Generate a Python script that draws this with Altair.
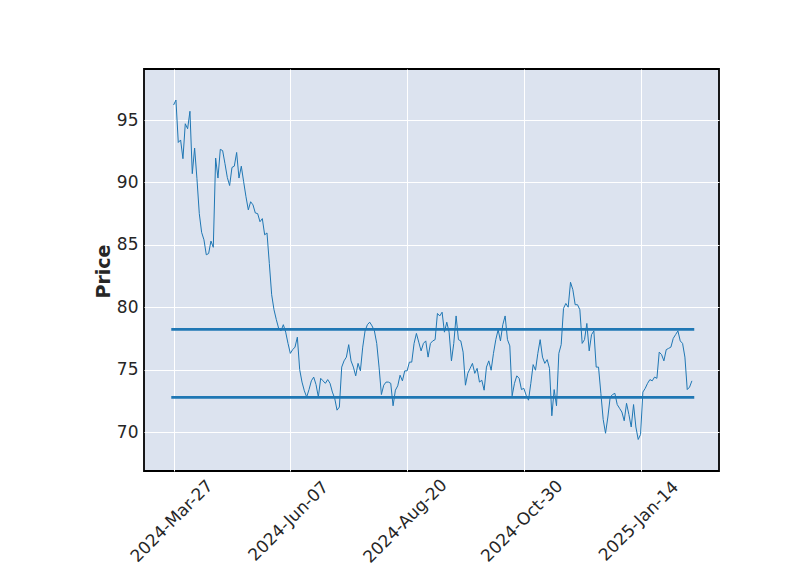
import altair as alt
import pandas as pd

# closing prices, one per trading day (index 0 = 2024-Mar-27)
prices = [
    96.2, 96.6, 93.2, 93.4, 91.9, 94.7, 94.3, 95.7, 90.7, 92.75,
    90.3, 87.5, 86.0, 85.4, 84.2, 84.3, 85.3, 84.8, 91.95, 90.35,
    92.65, 92.55, 91.5, 90.4, 89.75, 91.2, 91.3, 92.4, 90.35, 91.3,
    90.05, 88.85, 87.8, 88.45, 88.2, 87.55, 87.5, 86.85, 87.1, 85.8,
    85.95, 83.5, 81.0, 79.8, 79.0, 78.3, 78.1, 78.6, 78.0, 77.1,
    76.3, 76.6, 76.8, 77.6, 75.0, 74.0, 73.3, 72.8, 73.4, 74.1,
    74.4, 73.8, 72.8, 74.3, 74.1, 73.9, 74.2, 73.9, 73.2, 72.7,
    71.75, 72.0, 75.2, 75.7, 76.0, 77.0, 75.7, 75.2, 74.5, 75.5,
    74.9, 76.8, 78.1, 78.6, 78.8, 78.5, 78.1, 77.1, 75.2, 73.0,
    73.75, 74.0, 74.0, 73.9, 72.1, 73.35, 73.7, 74.55, 74.1, 74.9,
    74.9, 75.6, 75.6, 77.1, 77.9, 77.2, 76.5, 77.1, 77.3, 76.0,
    77.1, 77.3, 77.4, 79.5, 79.3, 79.6, 78.0, 78.8, 78.0, 75.7,
    77.1, 79.3, 77.4, 77.3, 76.4, 73.75, 74.7, 75.1, 75.5, 74.7,
    75.1, 74.0, 74.15, 73.35, 75.2, 75.7, 74.95, 76.3, 77.4, 78.2,
    77.3, 78.6, 79.3, 77.4, 76.9, 72.9, 73.9, 74.5, 74.3, 73.4,
    73.5, 72.95, 72.55, 73.9, 75.4, 74.95, 76.3, 77.4, 76.0, 75.5,
    75.8, 75.1, 71.3, 73.4, 72.1, 76.3, 77.0, 79.9, 80.3, 80.0,
    82.0, 81.4, 80.2, 80.2, 79.8, 77.1, 77.4, 78.7, 76.5, 77.8,
    78.1, 75.2, 75.2, 73.1, 71.0, 69.9, 71.2, 72.8, 73.0, 73.1,
    72.2, 71.9, 71.6, 70.9, 72.3, 71.4, 70.4, 72.2, 70.4, 69.4,
    69.8, 73.2, 73.5, 73.9, 74.2, 74.1, 74.4, 74.3, 76.4, 76.2,
    75.7, 76.6, 76.7, 76.8, 77.5, 77.8, 78.1, 77.3, 77.1, 76.0,
    73.4, 73.6, 74.1,
]
tick_positions = [0, 50, 100, 150, 200]
tick_labels = ["2024-Mar-27", "2024-Jun-07", "2024-Aug-20", "2024-Oct-30", "2025-Jan-14"]
y_ticks = [70, 75, 80, 85, 90, 95]
hline_levels = [78.23, 72.78]
hline_start = [-1, -1]
hline_end = [223, 223]

df = pd.DataFrame({"i": list(range(len(prices))), "price": prices})
hl = pd.DataFrame({"i": hline_start, "i2": hline_end, "price": hline_levels})

expr = "''"
for p, lab in reversed(list(zip(tick_positions, tick_labels))):
    expr = f"datum.value == {p} ? '{lab}' : ({expr})"

FONT = "DejaVu Sans"
x_scale = alt.Scale(domain=[-12.68, 233.6], nice=False, zero=False)
y_scale = alt.Scale(domain=[66.875, 99.087], nice=False, zero=False)
x_axis = alt.Axis(
    values=tick_positions, labelExpr=expr, title=None, grid=True, ticks=False,
    domain=False, labelAngle=315, labelAlign="center", labelBaseline="middle",
    labelPadding=50, labelFont=FONT, labelFontSize=17, labelColor="#262626",
    gridColor="white", gridWidth=1, gridOpacity=1, labelOverlap=False,
    labelOffset=-2,
)
y_axis = alt.Axis(
    values=y_ticks, title="Price", grid=True, ticks=False, domain=False,
    labelPadding=6, labelFont=FONT, labelFontSize=17, labelColor="#262626",
    gridColor="white", gridWidth=1, gridOpacity=1,
    titleFont=FONT, titleFontSize=19, titleFontWeight="bold", titleColor="#262626",
    titleAngle=270, titleX=-41, titleY=202, titleAlign="center", titleBaseline="middle",
)

line = alt.Chart(df).mark_line(color="#1f77b4", strokeWidth=1).encode(
    x=alt.X("i:Q", scale=x_scale, axis=x_axis),
    y=alt.Y("price:Q", scale=y_scale, axis=y_axis),
)
rules = alt.Chart(hl).mark_rule(color="#1f77b4", strokeWidth=2.8).encode(
    x=alt.X("i:Q", scale=x_scale, axis=x_axis),
    x2="i2:Q",
    y=alt.Y("price:Q", scale=y_scale, axis=y_axis),
)

chart = alt.layer(line, rules).properties(
    width=575, height=402,
    autosize=alt.AutoSizeParams(type="none"),
    padding={"left": 144, "top": 69, "right": 81, "bottom": 104},
    background="white",
).configure_view(
    fill="#DCE3EF", stroke="black", strokeWidth=1.8,
)

chart.save("out.html", embed_options={"renderer": "svg", "actions": False})
